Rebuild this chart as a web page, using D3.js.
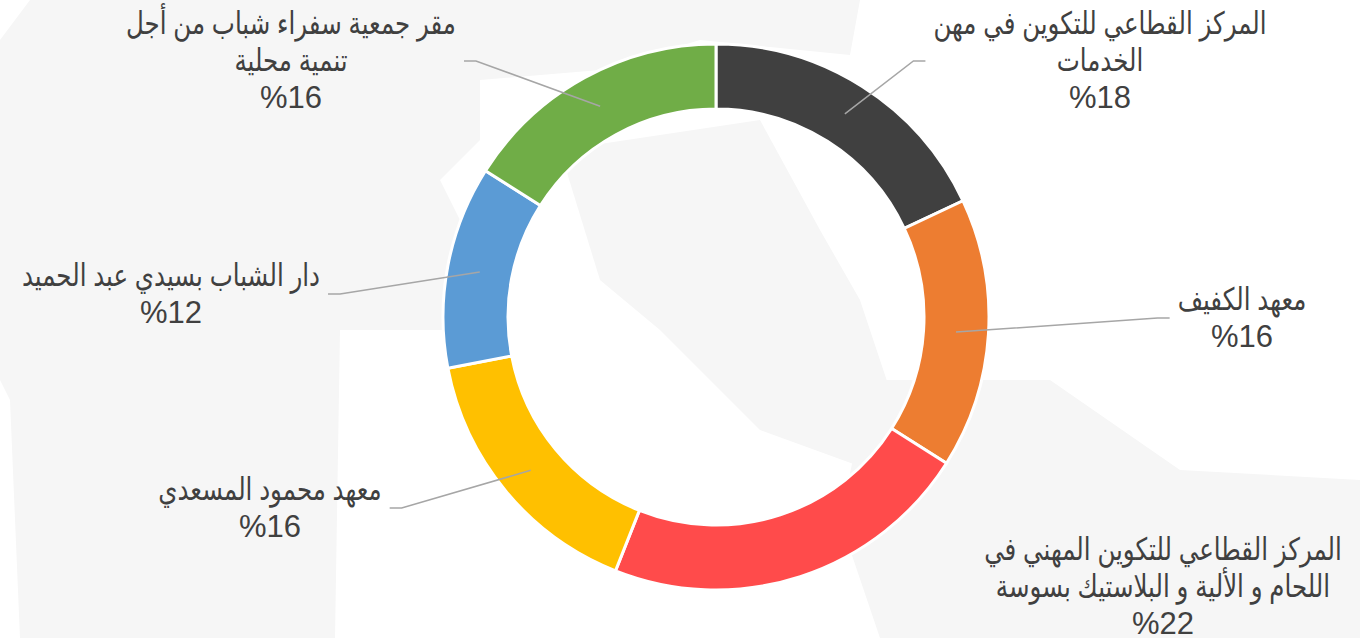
<!DOCTYPE html>
<html lang="ar">
<head>
  <meta charset="UTF-8">
  <title>doughnut</title>
  <style>
    html, body { margin: 0; padding: 0; background: #fff; }
    .lbl { fill: #404040; font-family: "Liberation Sans", Arial, "DejaVu Sans", sans-serif; font-size: 31px; }
    .leader { fill: none; stroke: #a6a6a6; stroke-width: 1.5px; }
    .bg { fill: #f6f6f6; stroke: none; }
  </style>
</head>
<body>
  <script src="https://cdn.jsdelivr.net/npm/d3@7"></script>
  <script>
    const width = 1360, height = 638;

    // data
    const categories = [
      'المركز القطاعي للتكوين في مهن الخدمات',
      'معهد الكفيف',
      'المركز القطاعي للتكوين المهني في اللحام و الألية و البلاستيك بسوسة',
      'معهد محمود المسعدي',
      'دار الشباب بسيدي عبد الحميد',
      'مقر جمعية سفراء شباب من أجل تنمية محلية'
    ];
    const values = [18, 16, 22, 16, 12, 16];
    const colors = ['#404040', '#ed7d31', '#ff4b4b', '#ffc000', '#5b9bd5', '#70ad47'];
    // label text as wrapped in the chart
    const labelLines = [
      ['المركز القطاعي للتكوين في مهن', 'الخدمات'],
      ['معهد الكفيف'],
      ['المركز القطاعي للتكوين المهني في', 'اللحام و الألية و البلاستيك بسوسة'],
      ['معهد محمود المسعدي'],
      ['دار الشباب بسيدي عبد الحميد'],
      ['مقر جمعية سفراء شباب من أجل', 'تنمية محلية']
    ];
    // label box centre [x, y], and which side the leader enters (null = no leader)
    const labelBox = [[1100, 61], [1242, 318], [1163, 587], [270, 508], [171, 294], [291, 61]];
    const leaderSide = ['left', 'left', null, 'right', 'right', 'right'];

    const cx = 716, cy = 317, rOut = 273, rIn = 208;
    const lineGap = 37;
    const arabicSqueeze = 0.79; // fallback Arabic font runs wider than the original

    const svg = d3.select('body').append('svg')
      .attr('width', width).attr('height', height);

    // faint map watermark in the background
    const bgShapes = [
      [[0,40],[30,0],[480,0],[480,140],[440,180],[470,240],[460,330],[340,330],[335,638],[20,638],[10,400],[0,380]],
      [[470,0],[860,0],[850,55],[700,40],[600,70],[480,80]],
      [[560,150],[760,120],[820,230],[860,300],[900,420],[870,470],[760,430],[660,330],[600,280]],
      [[870,380],[1050,380],[1180,470],[1360,480],[1360,638],[880,638],[840,520]]
    ];
    svg.append('g').selectAll('path').data(bgShapes).enter().append('path')
      .attr('class', 'bg')
      .attr('d', d => 'M' + d.join('L') + 'Z');

    const pie = d3.pie().sort(null).value(d => d);
    const arcs = pie(values);
    const arc = d3.arc().innerRadius(rIn).outerRadius(rOut);
    const mid = d3.arc().innerRadius((rIn + rOut) / 2).outerRadius((rIn + rOut) / 2);

    const g = svg.append('g').attr('transform', `translate(${cx},${cy})`);
    g.selectAll('path.slice').data(arcs).enter().append('path')
      .attr('class', 'slice')
      .attr('d', arc)
      .attr('fill', (d, i) => colors[i])
      .attr('stroke', '#fff')
      .attr('stroke-width', 3);

    // labels
    const labels = svg.append('g');
    arcs.forEach(function(a, i) {
      const lines = labelLines[i].concat(['%' + values[i]]);
      const n = lines.length;
      const [bx, by] = labelBox[i];
      const top = by - (n - 1) * lineGap / 2 + 10;
      let w = 0;
      lines.forEach(function(s, k) {
        const isPct = k === n - 1;
        const t = labels.append('text').attr('class', 'lbl')
          .attr('text-anchor', 'middle')
          .attr('transform', `translate(${bx},${top + k * lineGap})` + (isPct ? '' : ` scale(${arabicSqueeze},1)`))
          .text(s);
        w = Math.max(w, t.node().getBoundingClientRect().width);
      });
      if (!leaderSide[i]) return;
      const c = mid.centroid(a);
      const p0 = [cx + c[0], cy + c[1]];
      const ex = leaderSide[i] === 'left' ? bx - w / 2 - 8 : bx + w / 2 + 8;
      const elbow = leaderSide[i] === 'left' ? ex - 12 : ex + 12;
      labels.append('path').attr('class', 'leader')
        .attr('d', d3.line()([p0, [elbow, by], [ex, by]]));
    });
  </script>
</body>
</html>
